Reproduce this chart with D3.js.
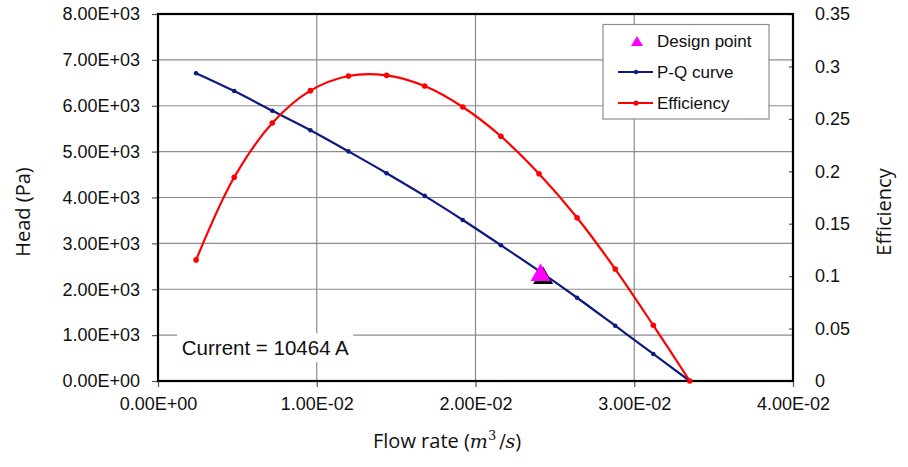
<!DOCTYPE html>
<html><head><meta charset="utf-8">
<script src="https://cdn.jsdelivr.net/npm/d3@7"></script>
<style>
body{margin:0;background:#fff;}
svg{display:block;}
</style></head>
<body>
<svg id="chart" width="908" height="467"></svg>
<script>
// Data
const flowRate = [0.0024, 0.0048, 0.0072, 0.0096, 0.012, 0.0144, 0.0168, 0.0192, 0.0216, 0.024, 0.0264, 0.0288, 0.0312, 0.0335];
const headPa   = [6710, 6320, 5890, 5465, 5005, 4530, 4035, 3510, 2960, 2400, 1815, 1205, 590, 0];
const efficiency = [0.1155, 0.1943, 0.2460, 0.2769, 0.2909, 0.2915, 0.2813, 0.2613, 0.2334, 0.1977, 0.1557, 0.1068, 0.0531, 0];
const designPoint = [0.0241, 2370];
const xTicks = [0, 0.01, 0.02, 0.03, 0.04];
const yTicks = [0, 1000, 2000, 3000, 4000, 5000, 6000, 7000, 8000];
const y2Ticks = [0, 0.05, 0.1, 0.15, 0.2, 0.25, 0.3, 0.35];
const legendLabels = ["Design point", "P-Q curve", "Efficiency"];
const annotation = "Current = 10464 A";

const svg = d3.select("#chart");
const L = 158, R = 793, T = 14, B = 381;
const x = d3.scaleLinear().domain([0, 0.04]).range([L, R]);
const y = d3.scaleLinear().domain([0, 8000]).range([B, T]);
const y2 = d3.scaleLinear().domain([0, 0.35]).range([B, T]);

const axisFont = "'Liberation Sans', Arial, sans-serif";
const titleFont = "'Open Sans', 'Noto Sans', sans-serif";
const fmtE = v => {
  if (v === 0) return "0.00E+00";
  const e = Math.floor(Math.log10(Math.abs(v)));
  const m = v / Math.pow(10, e);
  const es = (e < 0 ? "-" : "+") + String(Math.abs(e)).padStart(2, "0");
  return m.toFixed(2) + "E" + es;
};

// gridlines
const grid = svg.append("g");
grid.selectAll("line.h").data(yTicks).join("line")
  .attr("x1", L).attr("x2", R).attr("y1", d => y(d)).attr("y2", d => y(d))
  .attr("stroke", "#8c8c8c").attr("stroke-width", 1.2);
grid.selectAll("line.v").data(xTicks).join("line")
  .attr("y1", T).attr("y2", B).attr("x1", d => x(d)).attr("x2", d => x(d))
  .attr("stroke", "#8c8c8c").attr("stroke-width", 1.2);

// axes
const xAxis = d3.axisBottom(x).tickValues(xTicks).tickFormat(fmtE).tickSize(6).tickPadding(10);
const yAxis = d3.axisLeft(y).tickValues(yTicks).tickFormat(fmtE).tickSize(6).tickPadding(12);
const y2Axis = d3.axisRight(y2).tickValues(y2Ticks).tickFormat(d => String(+d.toFixed(2))).tickSize(-4).tickPadding(22);

function styleAxis(g) {
  g.select(".domain").remove();
  g.selectAll(".tick line").attr("stroke", "#555").attr("stroke-width", 1.2);
  g.selectAll(".tick text").attr("fill", "#111").style("font-family", axisFont).style("font-size", "18px");
}
svg.append("g").attr("transform", `translate(0,${B})`).call(xAxis).call(styleAxis);
svg.append("g").attr("transform", `translate(${L},0)`).call(yAxis).call(styleAxis);
svg.append("g").attr("transform", `translate(${R},0)`).call(y2Axis).call(styleAxis);

// plot frame
svg.append("rect").attr("x", L).attr("y", T).attr("width", R - L).attr("height", B - T)
  .attr("fill", "none").attr("stroke", "#000").attr("stroke-width", 2.2);

// annotation box
const ann = svg.append("g");
ann.append("rect").attr("x", x(0.0012)).attr("y", y(1040)).attr("width", x(0.0123) - x(0.0012)).attr("height", y(410) - y(1040)).attr("fill", "#fff");
ann.append("text").attr("x", x(0.0015)).attr("y", y(570)).text(annotation)
  .style("font-family", axisFont).style("font-size", "20.5px").attr("fill", "#111");

// series
const pq = flowRate.map((q, i) => [q, headPa[i]]);
const ef = flowRate.map((q, i) => [q, efficiency[i]]);
const lineH = d3.line().x(d => x(d[0])).y(d => y(d[1])).curve(d3.curveCatmullRom.alpha(0.5));
const lineE = d3.line().x(d => x(d[0])).y(d => y2(d[1])).curve(d3.curveCatmullRom.alpha(0.5));

svg.append("path").datum(pq).attr("d", lineH).attr("fill", "none").attr("stroke", "#0d1a80").attr("stroke-width", 2.2);
svg.append("g").selectAll("circle").data(pq).join("circle")
  .attr("cx", d => x(d[0])).attr("cy", d => y(d[1])).attr("r", 2.3).attr("fill", "#0d1a80");

svg.append("path").datum(ef).attr("d", lineE).attr("fill", "none").attr("stroke", "#ff0000").attr("stroke-width", 2.2);
svg.append("g").selectAll("circle").data(ef).join("circle")
  .attr("cx", d => x(d[0])).attr("cy", d => y2(d[1])).attr("r", 2.8).attr("fill", "#ff0000");

// design point triangle
function tri(cx, cy, w, h) {
  return `M${cx},${cy - h / 2}L${cx + w / 2},${cy + h / 2}L${cx - w / 2},${cy + h / 2}Z`;
}
const dx = x(designPoint[0]), dy = y(designPoint[1]);
svg.append("path").attr("d", tri(dx + 2.5, dy + 3, 20, 17.5)).attr("fill", "#000");
svg.append("path").attr("d", tri(dx, dy, 20, 17.5)).attr("fill", "#ff00ff");

// legend
const lg = svg.append("g");
lg.append("rect").attr("x", 603).attr("y", 24.5).attr("width", 166).attr("height", 94.5)
  .attr("fill", "#fff").attr("stroke", "#8c8c8c").attr("stroke-width", 1.2);
const rowY = [41, 72, 103];
lg.append("path").attr("d", tri(637, rowY[0], 12, 10)).attr("fill", "#ff00ff");
lg.append("line").attr("x1", 618).attr("x2", 653).attr("y1", rowY[1]).attr("y2", rowY[1]).attr("stroke", "#0d1a80").attr("stroke-width", 2);
lg.append("circle").attr("cx", 636).attr("cy", rowY[1]).attr("r", 2.2).attr("fill", "#0d1a80");
lg.append("line").attr("x1", 618).attr("x2", 653).attr("y1", rowY[2]).attr("y2", rowY[2]).attr("stroke", "#ff0000").attr("stroke-width", 2);
lg.append("circle").attr("cx", 636).attr("cy", rowY[2]).attr("r", 2.6).attr("fill", "#ff0000");
lg.selectAll("text").data(legendLabels).join("text")
  .attr("x", 657).attr("y", (d, i) => rowY[i]).attr("dy", "0.36em").text(d => d)
  .style("font-family", axisFont).style("font-size", "17px").attr("fill", "#111");

// axis titles
svg.append("text").attr("transform", "translate(30,212) rotate(-90)").attr("text-anchor", "middle")
  .style("font-family", titleFont).style("font-size", "20px").attr("fill", "#111").text("Head (Pa)");
svg.append("text").attr("transform", "translate(891,212) rotate(-90)").attr("text-anchor", "middle")
  .style("font-family", titleFont).style("font-size", "20px").attr("fill", "#111").text("Efficiency");

const xt = svg.append("text").attr("x", 373).attr("y", 448)
  .style("font-family", titleFont).style("font-size", "20px").attr("fill", "#111");
xt.append("tspan").text("Flow rate (");
xt.append("tspan").style("font-family", "'DejaVu Serif', 'Liberation Serif', serif").style("font-style", "italic").style("font-size", "19px").text("m");
xt.append("tspan").attr("dy", -8).style("font-family", "'DejaVu Serif', serif").style("font-size", "13px").text("3");
xt.append("tspan").attr("dy", 8).attr("dx", 3).style("font-family", "'DejaVu Serif', serif").style("font-size", "19px").text("/");
xt.append("tspan").style("font-family", "'DejaVu Serif', serif").style("font-style", "italic").style("font-size", "19px").text("s");
xt.append("tspan").text(")");
</script>
</body></html>
